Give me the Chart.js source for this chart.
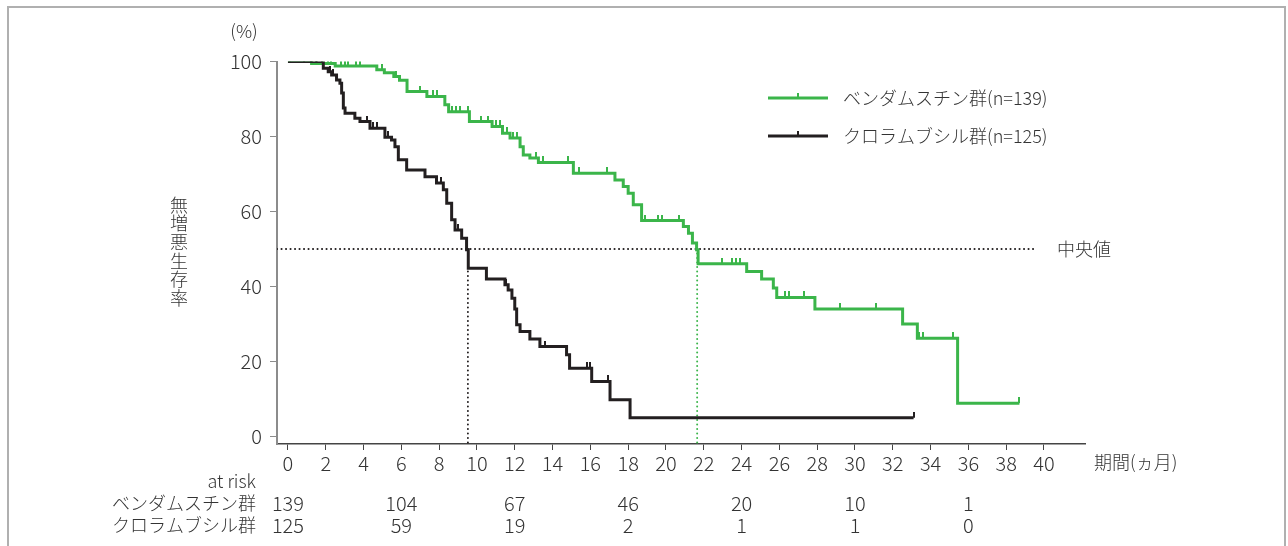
<!DOCTYPE html>
<html>
<head>
<meta charset="utf-8">
<script src="https://cdn.jsdelivr.net/npm/chart.js@4.4.1/dist/chart.umd.min.js"></script>
<style>
  html, body { margin: 0; padding: 0; background: #fff; }
  #wrap { width: 1288px; height: 546px; }
</style>
</head>
<body>
<div id="wrap"><canvas id="kmChart" width="1288" height="546"></canvas></div>
<script>
// ------------------------------ DATA ------------------------------
// Bendamustine arm: time (months) of each drop and PFS (%) after the drop
var benTimes  = [0, 1.25, 2.5, 4.7, 5.1, 5.6, 5.9, 6.3, 7.35, 8.3, 8.5, 9.6, 10.8, 11.35, 11.75, 12.28, 12.45, 12.8, 13.25,
                 15.1, 17.3, 17.74, 18.0, 18.27, 18.71, 20.92, 21.19, 21.4, 21.62, 21.7, 24.27, 25.06, 25.68, 25.86,
                 27.88, 32.52, 33.3, 35.43, 38.7];
var benValues = [100, 99.5, 98.8, 97.8, 97.0, 96.0, 95.0, 92.0, 90.7, 88.5, 86.6, 84.0, 82.7, 80.9, 79.6, 77.3, 75.1, 74.3, 73.1,
                 70.2, 68.4, 66.7, 64.9, 61.8, 57.6, 56.0, 54.2, 51.6, 49.8, 46.1, 44.0, 42.0, 39.6, 37.1,
                 34.0, 30.0, 26.2, 8.9, 8.9];
var benCensor = [0.1, 1.5, 1.8, 2.1, 2.3, 2.8, 3.0, 3.2, 3.6, 3.8, 5.0, 5.7, 7.0, 7.7, 7.9, 8.7, 8.9, 9.1, 9.5, 10.2, 10.6,
                 11.0, 11.2, 11.6, 11.9, 12.1, 13.1, 13.5, 14.8, 15.4, 16.9, 18.9, 19.6, 19.8, 20.7, 22.95, 23.5, 23.7,
                 23.9, 26.3, 26.5, 27.3, 29.2, 31.1, 33.4, 33.6, 35.2, 38.7];
// Chlorambucil arm
var chlTimes  = [0, 1.87, 2.13, 2.31, 2.57, 2.75, 2.84, 2.93, 3.02, 3.54, 3.81, 4.34, 5.13, 5.48, 5.66, 5.84, 6.28, 7.25,
                 7.86, 8.22, 8.4, 8.66, 8.84, 9.19, 9.45, 9.54, 10.5, 11.48, 11.65, 11.85, 12.0, 12.1, 12.28, 12.8,
                 13.33, 14.74, 14.9, 16.07, 17.04, 18.1, 33.1];
var chlValues = [100, 98.2, 97.3, 96.4, 95.1, 94.2, 91.6, 87.6, 86.2, 84.9, 84.0, 82.2, 79.8, 79.1, 77.3, 73.8, 71.1, 69.3,
                 67.6, 65.8, 62.2, 57.8, 55.1, 52.9, 49.8, 44.9, 42.0, 40.5, 39.1, 36.9, 34.0, 29.8, 28.0, 26.0,
                 24.0, 21.8, 18.2, 14.7, 9.8, 5.0, 5.0];
var chlCensor = [0.85, 1.2, 1.55, 2.2, 2.4, 4.2, 4.5, 4.7, 5.3, 8.1, 9.0, 11.55, 13.6, 15.8, 16.0, 16.95, 33.1];

// Axis ticks
var xTicks = [0, 2, 4, 6, 8, 10, 12, 14, 16, 18, 20, 22, 24, 26, 28, 30, 32, 34, 36, 38, 40];
var yTicks = [0, 20, 40, 60, 80, 100];

// Median lines
var medianLevel = 50;
var benMedian = 21.65;
var chlMedian = 9.52;
var medianLineEnd = 39.6;

// Numbers at risk
var riskTimes = [0, 6, 12, 18, 24, 30, 36];
var benRisk = [139, 104, 67, 46, 20, 10, 1];
var chlRisk = [125, 59, 19, 2, 1, 1, 0];

// Labels
var benName = 'ベンダムスチン群';
var chlName = 'クロラムブシル群';
var benLegend = 'ベンダムスチン群(n=139)';
var chlLegend = 'クロラムブシル群(n=125)';
var yTitle = '無増悪生存率';
var xTitle = '期間(ヵ月)';
var medianLabel = '中央値';

// ------------------------------ SETTINGS ------------------------------
var GREEN = '#3bb54a';
var BLACK = '#231f20';
var TEXT = '#333333';
var FONT = '"Noto Sans CJK JP", "Noto Sans", sans-serif';
var X_MIN = -0.58, X_MAX = 42.17;
var Y_MIN = -2, Y_MAX = 100;

// KM step lookup so censor marks sit on the curve
function survivalAt(times, values, t) {
    var v = values[0];
    for (var i = 0; i < times.length; i++) {
        if (times[i] <= t) v = values[i];
    }
    return v;
}
function toPoints(times, values) {
    return times.map(function (t, i) { return { x: t, y: values[i] }; });
}
function censorPoints(censor, times, values) {
    return censor.map(function (t) { return { x: t, y: survivalAt(times, values, t) }; });
}
// small upward tick used for censored patients
function makeTick(color) {
    var c = document.createElement('canvas');
    c.width = 2; c.height = 12;
    var g = c.getContext('2d');
    g.fillStyle = color;
    g.fillRect(0, 0, 2, 6);
    return c;
}

var textPlugin = {
    id: 'kmText',
    beforeDraw: function (chart) {
        var ctx = chart.ctx;
        ctx.save();
        ctx.strokeStyle = '#b0b0b0';
        ctx.lineWidth = 2;
        ctx.beginPath();
        ctx.moveTo(8, 546); ctx.lineTo(8, 7); ctx.lineTo(1285, 7); ctx.lineTo(1285, 546);
        ctx.stroke();
        ctx.restore();
    },
    afterDraw: function (chart) {
        var ctx = chart.ctx;
        var xs = chart.scales.x;
        ctx.save();
        ctx.fillStyle = TEXT;
        ctx.textBaseline = 'middle';
        ctx.font = '300 18px ' + FONT;

        // (%) and vertical y title
        ctx.textAlign = 'center';
        ctx.fillText('(%)', 244, 31);
        for (var i = 0; i < yTitle.length; i++) {
            ctx.fillText(yTitle[i], 179, 205 + i * 18.6);
        }

        // x title and median label
        ctx.textAlign = 'left';
        ctx.fillText(xTitle, 1094, 462);
        ctx.fillText(medianLabel, 1057, 249);

        // legend
        var items = [[GREEN, benLegend, 98], [BLACK, chlLegend, 136]];
        items.forEach(function (it) {
            ctx.strokeStyle = it[0];
            ctx.lineWidth = 3;
            ctx.beginPath(); ctx.moveTo(768, it[2]); ctx.lineTo(828, it[2]); ctx.stroke();
            ctx.lineWidth = 2;
            ctx.beginPath(); ctx.moveTo(798, it[2]); ctx.lineTo(798, it[2] - 5); ctx.stroke();
            ctx.fillText(it[1], 843, it[2]);
        });

        // numbers at risk
        ctx.textAlign = 'right';
        ctx.fillText('at risk', 256, 481);
        ctx.fillText(benName, 256, 503);
        ctx.fillText(chlName, 256, 525);
        ctx.textAlign = 'center';
        ctx.font = '300 20px ' + FONT;
        riskTimes.forEach(function (t, i) {
            var px = xs.getPixelForValue(t);
            ctx.fillText(String(benRisk[i]), px, 503);
            ctx.fillText(String(chlRisk[i]), px, 525);
        });
        ctx.restore();
    }
};

var dotted = {
    borderWidth: 2,
    borderDash: [0.1, 4.4],
    borderCapStyle: 'round',
    pointRadius: 0,
    fill: false,
    order: 5
};

var ctx = document.getElementById('kmChart').getContext('2d');
var kmChart = new Chart(ctx, {
    type: 'line',
    data: {
        datasets: [
            { label: benLegend, data: toPoints(benTimes, benValues), borderColor: GREEN, borderWidth: 3,
              stepped: 'before', pointRadius: 0, fill: false, order: 2 },
            { label: chlLegend, data: toPoints(chlTimes, chlValues), borderColor: BLACK, borderWidth: 3,
              stepped: 'before', pointRadius: 0, fill: false, order: 1 },
            { label: 'ben censor', data: censorPoints(benCensor, benTimes, benValues), showLine: false,
              pointStyle: makeTick(GREEN), pointRadius: 3, order: 2 },
            { label: 'chl censor', data: censorPoints(chlCensor, chlTimes, chlValues), showLine: false,
              pointStyle: makeTick(BLACK), pointRadius: 3, order: 1 },
            Object.assign({ label: 'median', borderColor: BLACK,
              data: [{ x: X_MIN, y: medianLevel }, { x: medianLineEnd, y: medianLevel }] }, dotted),
            Object.assign({ label: 'chl median', borderColor: BLACK,
              data: [{ x: chlMedian, y: medianLevel }, { x: chlMedian, y: Y_MIN }] }, dotted),
            Object.assign({ label: 'ben median', borderColor: GREEN,
              data: [{ x: benMedian, y: medianLevel }, { x: benMedian, y: Y_MIN }] }, dotted)
        ]
    },
    options: {
        responsive: false,
        animation: false,
        layout: { padding: { left: 0, top: 61.5, right: 203, bottom: 0 } },
        plugins: { legend: { display: false }, tooltip: { enabled: false } },
        scales: {
            x: {
                type: 'linear',
                min: X_MIN,
                max: X_MAX,
                afterBuildTicks: function (scale) { scale.ticks = xTicks.map(function (v) { return { value: v }; }); },
                afterFit: function (scale) { scale.height = 102; },
                grid: { drawOnChartArea: false, drawTicks: true, tickLength: 6, color: '#444' },
                border: { color: '#444', width: 1.5 },
                ticks: { color: TEXT, padding: 1, maxRotation: 0, font: { family: FONT, size: 20, weight: '300' } }
            },
            y: {
                type: 'linear',
                min: Y_MIN,
                max: Y_MAX,
                afterBuildTicks: function (scale) { scale.ticks = yTicks.map(function (v) { return { value: v }; }); },
                afterFit: function (scale) { scale.width = 277; },
                grid: { drawOnChartArea: false, drawTicks: true, tickLength: 7, color: '#8c8c8c' },
                border: { color: '#8c8c8c', width: 2 },
                ticks: { color: TEXT, padding: 8, font: { family: FONT, size: 20, weight: '300' } }
            }
        }
    },
    plugins: [textPlugin]
});
</script>
</body>
</html>
